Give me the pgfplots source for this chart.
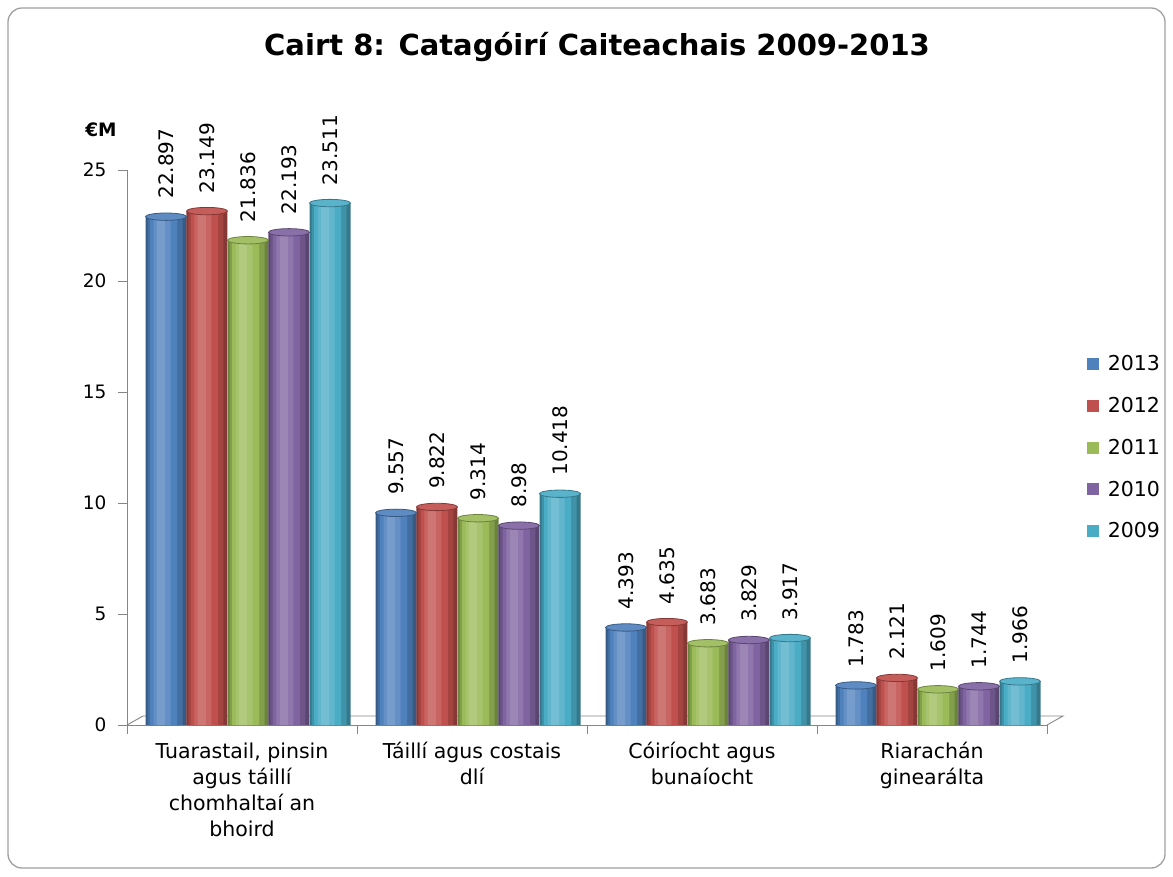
\documentclass[border=0pt]{standalone}
\usepackage{fontspec}
\setmainfont{DejaVu Sans}
\usepackage{pgfplots}
\usepackage{pgfplotstable}
\pgfplotsset{compat=1.18}

\definecolor{cA}{HTML}{4F81BD}
\definecolor{cB}{HTML}{C0504D}
\definecolor{cC}{HTML}{9BBB59}
\definecolor{cD}{HTML}{8064A2}
\definecolor{cE}{HTML}{4BACC6}
\definecolor{axgray}{HTML}{868686}

\newcommand{\fnt}{\fontsize{18.5}{26}\selectfont}
\newcommand{\lfnt}{\fontsize{20.5}{26}\selectfont}
\newcommand{\vfnt}{\fontsize{20}{24}\selectfont}

% x = category index + offset of the bar inside its group
\pgfplotstableread{
x y
-0.3304 22.897
0.6696 9.557
1.6696 4.393
2.6696 1.783
}\tA
\pgfplotstableread{
x y
-0.1522 23.149
0.8478 9.822
1.8478 4.635
2.8478 2.121
}\tB
\pgfplotstableread{
x y
0.0261 21.836
1.0261 9.314
2.0261 3.683
3.0261 1.609
}\tC
\pgfplotstableread{
x y
0.2043 22.193
1.2043 8.98
2.2043 3.829
3.2043 1.744
}\tD
\pgfplotstableread{
x y
0.3826 23.511
1.3826 10.418
2.3826 3.917
3.3826 1.966
}\tE

% cylinder look: stacked bands, dark edges and a light strip left of centre, elliptic top
\newcommand{\cyl}[2]{%
  \addplot[ybar, bar width=41pt, bar shift=0pt, draw=none, fill=#2!70!black, forget plot] table {#1};
  \addplot[ybar, bar width=35pt, bar shift=-1pt, draw=none, fill=#2!85!black, forget plot] table {#1};
  \addplot[ybar, bar width=27pt, bar shift=-2.5pt, draw=none, fill=#2, forget plot] table {#1};
  \addplot[ybar, bar width=17pt, bar shift=-4pt, draw=none, fill=#2!88!white, forget plot] table {#1};
  \addplot[ybar, bar width=8pt, bar shift=-5pt, draw=none, fill=#2!78!white, forget plot] table {#1};
  \addplot[only marks, mark=*, mark size=20.5pt, forget plot, nodes near coords,
    mark options={yscale=0.18, fill=#2!92!white, draw=#2!70!black, line width=0.8pt}] table {#1};
}

\begin{document}
\begin{tikzpicture}[x=1pt,y=1pt]
\useasboundingbox (0,0) rectangle (1173,876);
\draw[rounded corners=14pt, draw=gray!75, line width=1.3pt] (8,8) rectangle (1165,868);
\node[font=\fontsize{29}{34}\selectfont\bfseries] at (597,829) {Cairt 8: Catagóirí Caiteachais 2009-2013};
\node[font=\fnt\bfseries] at (101,746) {€M};
% floor
\draw[axgray, line width=0.9pt] (127,151) -- (143,160) -- (1063,160) -- (1047,151);

\begin{axis}[
  at={(127pt,151pt)}, anchor=south west,
  scale only axis, width=920pt, height=555pt,
  xmin=-0.5, xmax=3.5, ymin=0, ymax=25,
  clip=false,
  axis x line*=bottom, axis y line*=left,
  axis line style={draw=axgray, line width=0.9pt, -},
  tick style={draw=axgray, line width=0.9pt},
  tick align=outside, major tick length=9pt,
  ytick={0,5,...,25},
  xtick={-0.5,0.5,1.5,2.5,3.5}, xticklabels={},
  extra x ticks={0,1,2,3},
  extra x tick labels={{Tuarastail, pinsin\\agus táillí\\chomhaltaí an\\bhoird},
    {Táillí agus costais\\dlí},{Cóiríocht agus\\bunaíocht},{Riarachán\\ginearálta}},
  extra x tick style={major tick length=0pt,
    tick label style={align=center, font=\lfnt, yshift=-14pt}},
  y tick label style={font=\fnt, xshift=-8pt},
  /pgf/number format/assume math mode=true,
  every node near coord/.append style={font=\vfnt, rotate=90, anchor=west,
    inner sep=0pt, outer xsep=18pt, black},
  /pgf/number format/.cd, fixed, precision=3,
  /pgfplots/.cd,
  legend style={at={(1.043,0.5)}, anchor=west, draw=none, font=\lfnt,
    row sep=21pt, inner sep=0pt},
  legend cell align=left,
  legend image code/.code={\fill[#1] (0pt,-6pt) rectangle (12pt,6pt); \path (19pt,0pt);},
]
\addlegendimage{fill=cA, draw=none}
\addlegendimage{fill=cB, draw=none}
\addlegendimage{fill=cC, draw=none}
\addlegendimage{fill=cD, draw=none}
\addlegendimage{fill=cE, draw=none}

\cyl{\tA}{cA}
\cyl{\tB}{cB}
\cyl{\tC}{cC}
\cyl{\tD}{cD}
\cyl{\tE}{cE}
\legend{2013,2012,2011,2010,2009}
\end{axis}
\end{tikzpicture}
\end{document}
